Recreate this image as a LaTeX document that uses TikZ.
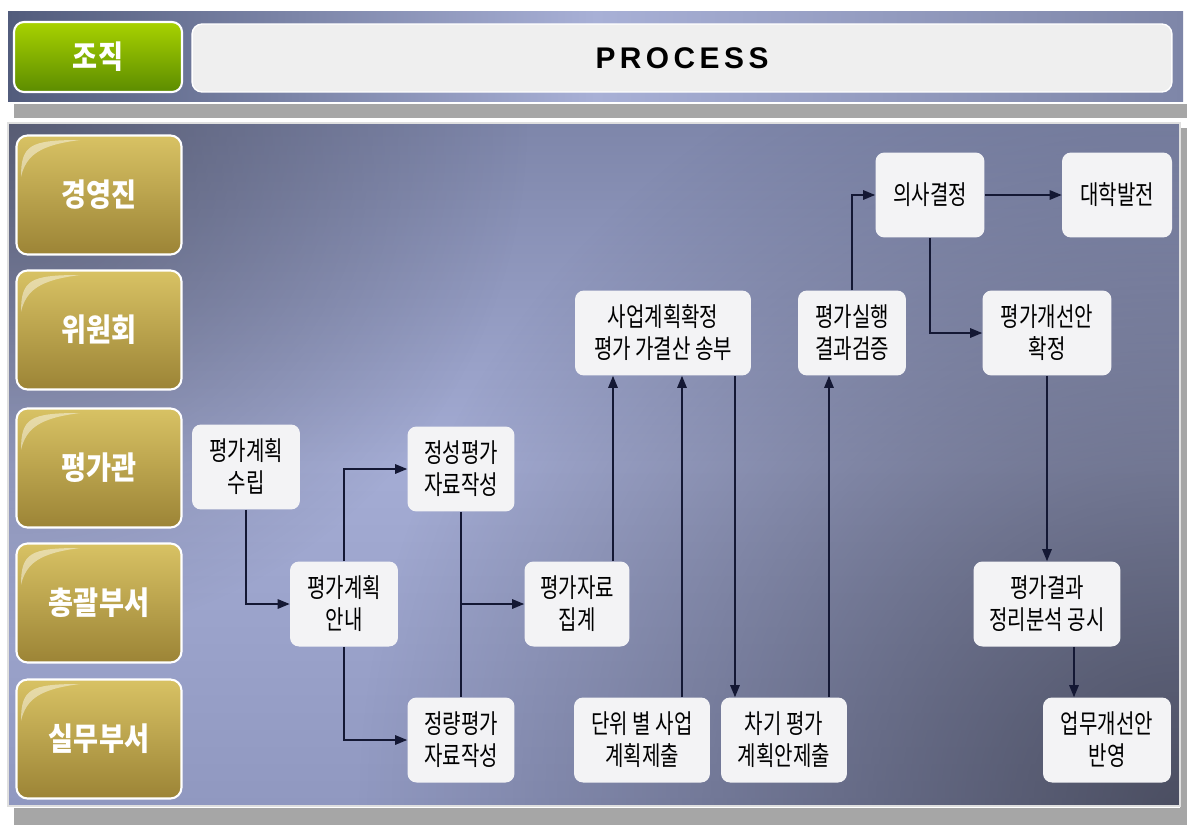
\documentclass[tikz,border=0pt]{standalone}
\usepackage{fontspec}
\usetikzlibrary{arrows.meta,fadings}

\newfontfamily\kr[FakeStretch=0.76]{Noto Sans CJK KR}
\newfontfamily\krbtn[FakeStretch=0.86]{Noto Sans CJK KR}
\newfontfamily\lat[LetterSpace=15]{Liberation Sans}

\definecolor{goldtop}{HTML}{D8C264}
\definecolor{goldbot}{HTML}{9C8436}
\definecolor{greentop}{HTML}{A8D200}
\definecolor{greenbot}{HTML}{5C8C00}
\definecolor{boxfill}{HTML}{F3F3F5}
\definecolor{linecol}{HTML}{141834}
\definecolor{titlefill}{HTML}{EFEFEF}
\definecolor{shadowgray}{HTML}{A6A6A6}
\definecolor{hdrdark}{HTML}{525C7C}
\definecolor{hdrlight}{HTML}{A8B0D6}
\definecolor{hdrmid}{HTML}{7E86A8}
\definecolor{pantop}{HTML}{7E86AA}
\definecolor{panmid}{HTML}{A4ACD4}
\definecolor{panbot}{HTML}{9098C0}
\definecolor{pancorner}{HTML}{3A3C4A}

\tikzfading[name=blob, inner color=transparent!20, outer color=transparent!100]

\begin{document}
\begin{tikzpicture}[x=0.02cm, y=-0.02cm,
  role/.style={draw=white, line width=1.2pt, rounded corners=0.22cm,
    top color=goldtop, bottom color=goldbot, text=white,
    minimum width=3.3cm, minimum height=2.38cm,
    font=\krbtn\bfseries\fontsize{18}{20}\selectfont},
  box/.style={fill=boxfill, rounded corners=0.18cm, align=center,
    inner sep=0pt, minimum height=1.7cm,
    font=\kr\fontsize{15}{18.2}\selectfont},
  flow/.style={draw=linecol, line width=0.8pt,
    -{Triangle[length=0.24cm, width=0.19cm]}},
  plain/.style={draw=linecol, line width=0.8pt}]

  \useasboundingbox (0,0) rectangle (1187,825);
  \fill[white] (0,0) rectangle (1187,825);

  % header and panel
  \fill[shadowgray] (14,104) rectangle (1187,118);
  \fill[shadowgray] (14,808) rectangle (1187,825);
  \fill[shadowgray] (1180,128) rectangle (1187,825);
  \shade[left color=hdrdark, right color=hdrmid, middle color=hdrlight]
    (8,11) rectangle (1183,101);
  \begin{scope}
    \clip (8,123) rectangle (1180,806);
    \shade[top color=pantop, bottom color=panbot, middle color=panmid]
      (8,123) rectangle (1180,806);
    \fill[pancorner, path fading=blob] (1180,806) circle (820);
    \fill[pancorner, path fading=blob, opacity=0.7] (8,123) circle (520);
  \end{scope}
  \draw[white!75!gray, line width=0.6pt] (8,123) rectangle (1180,806);

  \node[draw=white, line width=1.2pt, rounded corners=0.2cm,
    top color=greentop, bottom color=greenbot, text=white,
    minimum width=3.36cm, minimum height=1.4cm,
    font=\krbtn\bfseries\fontsize{18}{20}\selectfont] (org) at (98,57) {조직};
  \node[draw=white, line width=0.8pt, fill=titlefill, rounded corners=0.2cm,
    minimum width=19.6cm, minimum height=1.36cm,
    font=\lat\bfseries\fontsize{17}{20}\selectfont] (title) at (682,58) {PROCESS};

  \node[role] (exec) at (99,195) {경영진};
  \node[role] (board) at (99,330) {위원회};
  \node[role] (evaluator) at (99,468) {평가관};
  \node[role] (general) at (99,603) {총괄부서};
  \node[role] (staff) at (99,739) {실무부서};

  \foreach \cy in {195,330,468,603,739} {
    \fill[white, opacity=0.45] (21,\cy-18) .. controls (21,\cy-50) and (30,\cy-55) .. (80,\cy-55)
      .. controls (40,\cy-50) and (26,\cy-40) .. (21,\cy-18);
  }

  \node[box, minimum width=2.16cm] (plan) at (246,467) {평가계획\\수립};
  \node[box, minimum width=2.16cm] (notice) at (344,604) {평가계획\\안내};
  \node[box, minimum width=2.14cm] (qual) at (461,469) {정성평가\\자료작성};
  \node[box, minimum width=2.14cm] (quant) at (461,740) {정량평가\\자료작성};
  \node[box, minimum width=2.1cm] (gather) at (577,604) {평가자료\\집계};
  \node[box, minimum width=2.72cm] (unitplan) at (642,740) {단위 별 사업\\계획제출};
  \node[box, minimum width=2.52cm] (nextplan) at (784,740) {차기 평가\\계획안제출};
  \node[box, minimum width=3.52cm] (confirm) at (663,333) {사업계획확정\\평가 가결산 송부};
  \node[box, minimum width=2.16cm] (verify) at (852,333) {평가실행\\결과검증};
  \node[box, minimum width=2.18cm] (decide) at (930,195) {의사결정};
  \node[box, minimum width=2.2cm] (develop) at (1117,195) {대학발전};
  \node[box, minimum width=2.58cm] (improve) at (1047,333) {평가개선안\\확정};
  \node[box, minimum width=2.94cm] (publish) at (1047,604) {평가결과\\정리분석 공시};
  \node[box, minimum width=2.56cm] (apply) at (1107,740) {업무개선안\\반영};

  \draw[flow] (plan.south) |- (notice.west);
  \draw[flow] (notice.north) |- (qual.west);
  \draw[flow] (notice.south) |- (quant.west);
  \draw[plain] (qual.south) -- (quant.north);
  \draw[flow] (qual.south |- gather.west) -- (gather.west);
  \draw[flow] ([xshift=0.72cm]gather.north) -- ([xshift=0.72cm]gather.north |- confirm.south);
  \draw[flow] ([xshift=0.8cm]unitplan.north) -- ([xshift=0.8cm]unitplan.north |- confirm.south);
  \draw[flow] ([xshift=1.44cm]confirm.south) -- ([xshift=1.44cm]confirm.south |- nextplan.north);
  \draw[flow] ([xshift=0.9cm]nextplan.north) -- ([xshift=0.9cm]nextplan.north |- verify.south);
  \draw[flow] (verify.north) |- (decide.west);
  \draw[flow] (decide.east) -- (develop.west);
  \draw[flow] (decide.south) |- (improve.west);
  \draw[flow] (improve.south) -- (improve.south |- publish.north);
  \draw[flow] ([xshift=0.54cm]publish.south) -- ([xshift=0.54cm]publish.south |- apply.north);

\end{tikzpicture}
\end{document}
